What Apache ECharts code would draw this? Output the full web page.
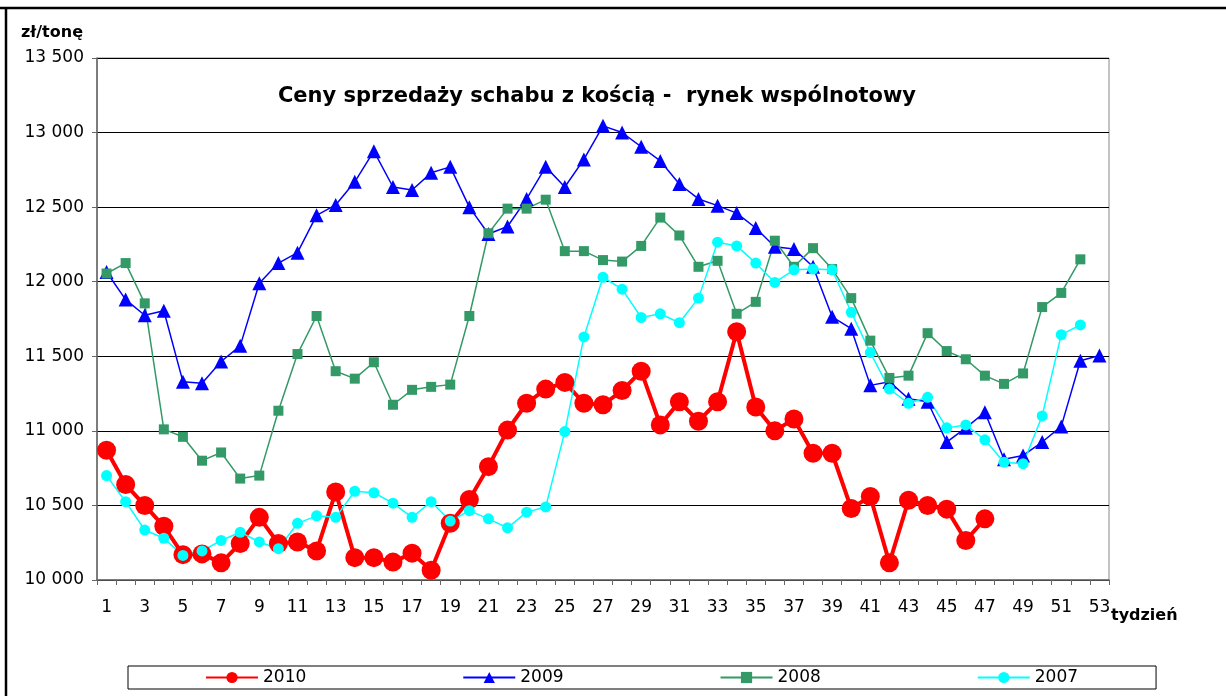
<!DOCTYPE html>
<html>
<head>
<meta charset="utf-8">
<script src="https://cdn.jsdelivr.net/npm/echarts@6/dist/echarts.min.js"></script>
<style>
  html, body { margin: 0; padding: 0; background: #fff; }
  #chart { width: 1226px; height: 696px; }
</style>
</head>
<body>
<div id="chart"></div>
<script>
// tygodnie 1..53
const weeks = ['1','2','3','4','5','6','7','8','9','10','11','12','13','14','15','16','17','18','19','20',
  '21','22','23','24','25','26','27','28','29','30','31','32','33','34','35','36','37','38','39','40',
  '41','42','43','44','45','46','47','48','49','50','51','52','53'];

// ceny w zł/tonę
const y2010 = [10870,10640,10500,10360,10170,10175,10115,10245,10420,10245,
  10255,10195,10590,10150,10150,10120,10180,10065,10380,10540,
  10760,11005,11185,11280,11325,11185,11175,11270,11400,11040,
  11195,11065,11195,11665,11160,11000,11080,10850,10850,10480,
  10560,10115,10535,10500,10475,10265,10410];

const y2009 = [12065,11880,11775,11805,11330,11320,11465,11570,11990,12125,
  12195,12445,12515,12670,12875,12635,12615,12730,12770,12500,
  12320,12370,12555,12770,12635,12820,13045,13000,12905,12810,
  12655,12555,12510,12460,12360,12235,12220,12100,11765,11685,
  11305,11330,11215,11195,10925,11020,11125,10810,10835,10925,
  11030,11470,11505];

const y2008 = [12055,12125,11855,11010,10960,10800,10855,10680,10700,11135,
  11515,11770,11400,11350,11460,11175,11275,11295,11310,11770,
  12325,12490,12490,12550,12205,12205,12145,12135,12240,12430,
  12310,12100,12140,11785,11865,12275,12100,12225,12085,11890,
  11605,11355,11370,11655,11535,11480,11370,11315,11385,11830,
  11925,12150];

const y2007 = [10700,10525,10335,10280,10165,10195,10265,10320,10255,10210,
  10380,10430,10420,10595,10585,10515,10420,10525,10395,10465,
  10410,10350,10455,10490,10995,11630,12030,11950,11760,11785,
  11725,11890,12265,12240,12125,11995,12080,12085,12080,11795,
  11525,11280,11185,11225,11020,11040,10940,10790,10780,11100,
  11645,11710];

const FONT = 'DejaVu Sans';

const chart = echarts.init(document.getElementById('chart'), null, { renderer: 'canvas' });

function fmt(v) {
  return String(v).replace(/\B(?=(\d{3})+(?!\d))/g, ' ');
}

chart.setOption({
  animation: false,
  backgroundColor: '#fff',
  grid: {
    left: 97, right: 117, top: 58, bottom: 116,
    show: true, borderColor: '#888', borderWidth: 1
  },
  xAxis: {
    type: 'category',
    data: weeks,
    boundaryGap: true,
    axisLine: { lineStyle: { color: '#666', width: 1.5 } },
    axisTick: { show: true, interval: 0, length: 5, lineStyle: { color: '#666' } },
    axisLabel: { interval: 1, margin: 19, color: '#000', fontFamily: FONT, fontSize: 17 },
    splitLine: { show: false }
  },
  yAxis: {
    type: 'value',
    min: 10000, max: 13500, interval: 500,
    axisLine: { show: true, lineStyle: { color: '#666', width: 1.5 } },
    axisTick: { show: true, length: 5, lineStyle: { color: '#666' } },
    axisLabel: { margin: 13, color: '#000', fontFamily: FONT, fontSize: 17, formatter: fmt },
    splitLine: { show: true, lineStyle: { color: '#000', width: 1 } }
  },
  legend: {
    left: 128, top: 666,
    padding: [3, 78, 3, 77],
    borderColor: '#000', borderWidth: 1,
    itemWidth: 52, itemHeight: 14, itemGap: 156,
    textStyle: { fontFamily: FONT, fontSize: 17, color: '#000' },
    data: ['2010', '2009', '2008', '2007']
  },
  graphic: [
    { type: 'line', shape: { x1: 0, y1: 8, x2: 1226, y2: 8 }, style: { stroke: '#000', lineWidth: 2.5 } },
    { type: 'line', shape: { x1: 6, y1: 7, x2: 6, y2: 696 }, style: { stroke: '#000', lineWidth: 2.5 } },
    { type: 'text', left: 21, top: 25,
      style: { text: 'zł/tonę', font: 'bold 16px "DejaVu Sans"', fill: '#000' } },
    { type: 'text', left: 1111, top: 608,
      style: { text: 'tydzień', font: 'bold 16px "DejaVu Sans"', fill: '#000' } },
    { type: 'text', x: 597, y: 97,
      style: { text: 'Ceny sprzedaży schabu z kością -  rynek wspólnotowy',
        font: 'bold 21px "DejaVu Sans"', fill: '#000', align: 'center', verticalAlign: 'middle' } }
  ],
  series: [
    {
      name: '2010', type: 'line', data: y2010,
      symbol: 'circle', symbolSize: 19, showAllSymbol: true,
      lineStyle: { color: '#ff0000', width: 4 },
      itemStyle: { color: '#ff0000' }
    },
    {
      name: '2009', type: 'line', data: y2009,
      symbol: 'triangle', symbolSize: 14, showAllSymbol: true,
      lineStyle: { color: '#0000ff', width: 1.5 },
      itemStyle: { color: '#0000ff' }
    },
    {
      name: '2008', type: 'line', data: y2008,
      symbol: 'rect', symbolSize: 10, showAllSymbol: true,
      lineStyle: { color: '#339966', width: 1.5 },
      itemStyle: { color: '#339966' }
    },
    {
      name: '2007', type: 'line', data: y2007,
      symbol: 'circle', symbolSize: 11, showAllSymbol: true,
      lineStyle: { color: '#00ffff', width: 1.5 },
      itemStyle: { color: '#00ffff' }
    }
  ]
});
</script>
</body>
</html>
